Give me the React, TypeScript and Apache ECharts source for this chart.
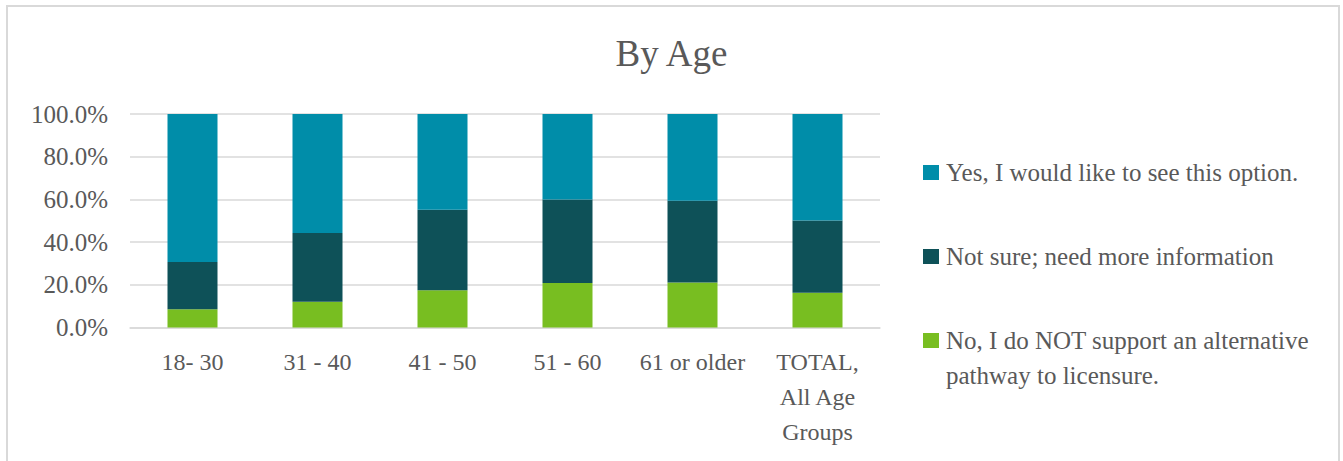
import React, { useEffect, useRef } from "react";
import * as echarts from "echarts";

const categories = ["18- 30", "31 - 40", "41 - 50", "51 - 60", "61 or older", "TOTAL,\nAll Age\nGroups"];
const noSupport = [8.6, 12.1, 17.5, 20.8, 21.1, 16.3];
const notSure = [22.1, 32.2, 37.7, 39.1, 38.3, 33.8];
const yesOption = [69.3, 55.7, 44.8, 40.1, 40.6, 49.9];
const yTicks = [0, 20, 40, 60, 80, 100];

const NAME_YES = "Yes, I would like to see this option.";
const NAME_NS = "Not sure; need more information";
const NAME_NO = "No, I do NOT support an alternative pathway to licensure.";

const FONT = "Liberation Serif";
const TXT = "#595959";
const GRID = "#d9d9d9";

export default function App() {
  const ref = useRef<HTMLDivElement>(null);
  useEffect(() => {
    if (!ref.current) return;
    const chart = echarts.init(ref.current, null, { renderer: "svg" });
    const legendBase = {
      orient: "vertical",
      left: 923,
      padding: 0,
      itemWidth: 16,
      itemHeight: 15,
      icon: "rect",
      textStyle: { fontFamily: FONT, fontSize: 25, color: TXT, lineHeight: 35, padding: [0, 0, 0, 2] },
    };
    chart.setOption({
      animation: false,
      backgroundColor: "#ffffff",
      title: {
        text: "By Age",
        left: "center",
        top: 30,
        textStyle: { fontFamily: FONT, fontSize: 37, fontWeight: "normal", color: TXT },
      },
      graphic: [
        {
          type: "rect",
          shape: { x: 7, y: 6, width: 1332, height: 480 },
          style: { fill: "none", stroke: GRID, lineWidth: 2 },
          silent: true,
        },
      ],
      legend: [
        { ...legendBase, top: 155, data: [NAME_YES] },
        { ...legendBase, top: 239, data: [NAME_NS] },
        {
          ...legendBase,
          top: 288,
          data: [NAME_NO],
          formatter: () => "\nNo, I do NOT support an alternative\npathway to licensure.",
        },
      ],
      grid: { left: 130, right: 463, top: 114, bottom: 133.5, containLabel: false },
      xAxis: {
        type: "category",
        data: categories,
        axisLine: { lineStyle: { color: GRID, width: 1.5 } },
        axisTick: { show: false },
        axisLabel: {
          interval: 0,
          fontFamily: FONT,
          fontSize: 24,
          color: TXT,
          lineHeight: 35,
          margin: 17,
        },
      },
      yAxis: {
        type: "value",
        min: yTicks[0],
        max: yTicks[yTicks.length - 1],
        interval: 20,
        axisLine: { show: false },
        axisTick: { show: false },
        splitLine: { lineStyle: { color: GRID, width: 1.5 } },
        axisLabel: {
          fontFamily: FONT,
          fontSize: 25,
          color: TXT,
          margin: 22,
          formatter: (v: number) => v.toFixed(1) + "%",
        },
      },
      series: [
        { name: NAME_NO, type: "bar", stack: "a", data: noSupport, barWidth: "40%", itemStyle: { color: "#78BE21" } },
        { name: NAME_NS, type: "bar", stack: "a", data: notSure, barWidth: "40%", itemStyle: { color: "#0E5158" } },
        { name: NAME_YES, type: "bar", stack: "a", data: yesOption, barWidth: "40%", itemStyle: { color: "#008DA9" } },
      ],
    });
    return () => chart.dispose();
  }, []);
  return <div ref={ref} style={{ position: "fixed", left: 0, top: 0, width: 1343, height: 461 }} />;
}
